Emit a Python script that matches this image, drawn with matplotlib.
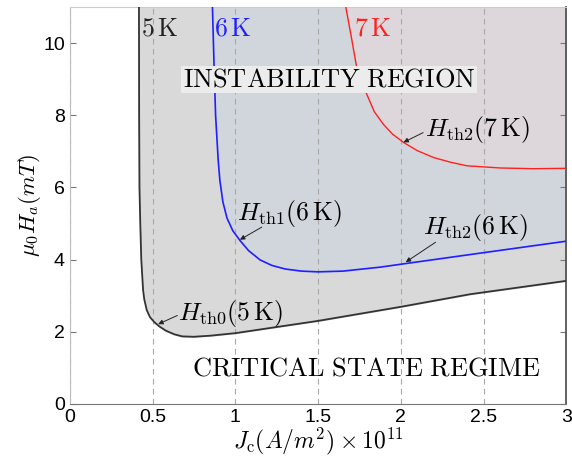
import matplotlib.pyplot as plt

plt.rcParams['mathtext.fontset'] = 'cm'
plt.rcParams['font.family'] = 'Liberation Sans'

# black curve, 5 K (H_th0)
x5 = [0.418, 0.419, 0.421, 0.426, 0.432, 0.443, 0.45, 0.465, 0.485, 0.51, 0.54, 0.58,
      0.63, 0.68, 0.75, 0.85, 1.0, 1.5, 2.0, 2.42, 3.0]
y5 = [11.0, 8.0, 6.0, 5.0, 4.0, 3.15, 2.9, 2.6, 2.4, 2.27, 2.15, 2.03,
      1.93, 1.87, 1.86, 1.89, 1.96, 2.30, 2.69, 3.04, 3.41]

# blue curve, 6 K (H_th1 / H_th2)
x6 = [0.862, 0.871, 0.881, 0.897, 0.907, 0.925, 0.95, 0.985, 1.03, 1.08, 1.15, 1.22,
      1.3, 1.4, 1.5, 1.65, 1.875, 2.03, 2.42, 3.0]
y6 = [11.0, 9.5, 8.0, 6.74, 6.19, 5.6, 5.15, 4.8, 4.52, 4.25, 3.99, 3.84,
      3.74, 3.68, 3.66, 3.68, 3.79, 3.89, 4.14, 4.51]

# red curve, 7 K (H_th2)
x7 = [1.668, 1.70, 1.734, 1.765, 1.795, 1.84, 1.895, 1.95, 2.016, 2.1, 2.198, 2.3,
      2.4, 2.6, 2.8, 3.0]
y7 = [11.0, 10.2, 9.32, 8.9, 8.58, 8.1, 7.75, 7.48, 7.25, 7.02, 6.83, 6.70,
      6.60, 6.54, 6.52, 6.53]

ytop = 11

fig = plt.figure(figsize=(5.72, 4.74), dpi=100)
ax = fig.add_axes([0.122, 0.148, 0.868, 0.837])

ax.fill_between(x5, y5, ytop, color='#d9d9d9', zorder=1)
ax.fill_between(x6, y6, ytop, color='#d1d5dc', zorder=1.1)
ax.fill_between(x7, y7, ytop, color='#ddd6da', zorder=1.2)

for xv in [0, 0.5, 1, 1.5, 2, 2.5]:
    ax.axvline(xv, color='#a8a8a8', lw=0.8, ls=(0, (5, 4)), zorder=1.5)

ax.plot(x5, y5, color='#333333', lw=1.3, zorder=3)
ax.plot(x6, y6, color='#1f1fff', lw=1.2, zorder=3)
ax.plot(x7, y7, color='#ff2020', lw=1.0, zorder=3)

ax.set_xlim(0, 3)
ax.set_ylim(0, ytop)
ax.set_xticks([0, 0.5, 1, 1.5, 2, 2.5, 3])
ax.set_xticklabels(['0', '0.5', '1', '1.5', '2', '2.5', '3'])
ax.set_yticks([0, 2, 4, 6, 8, 10])
ax.tick_params(labelsize=14, direction='in', right=True, length=4, color='#777777')
ax.tick_params(axis='x', length=0)
ax.spines['left'].set_color('#bbbbbb')
ax.spines['top'].set_color('#cccccc')
ax.spines['bottom'].set_color('#777777')
ax.spines['right'].set_color('#555555')
ax.spines['right'].set_linewidth(1.3)

ax.set_xlabel(r'$J_{\mathrm{c}}(A/m^2)\times 10^{11}$', fontsize=17, labelpad=0)
ax.set_ylabel(r'$\mu_0 H_a(mT)$', fontsize=16.5, labelpad=0)

ax.text(0.428, 10.4, r'$5\,\mathrm{K}$', color='#222222', fontsize=18.5, va='center', zorder=4)
ax.text(0.87, 10.4, r'$6\,\mathrm{K}$', color='#1f1fff', fontsize=18.5, va='center', zorder=4)
ax.text(1.715, 10.4, r'$7\,\mathrm{K}$', color='#ff2020', fontsize=18.5, va='center', zorder=4)

ax.text(1.567, 9.0, r'$\mathrm{INSTABILITY\ REGION}$', fontsize=19, ha='center', va='center',
        zorder=4, bbox=dict(facecolor='#ececec', edgecolor='none', pad=1))
ax.text(1.79, 0.97, r'$\mathrm{CRITICAL\ STATE\ REGIME}$', fontsize=19, ha='center',
        va='center', zorder=4)

labels = [
    (r'$H_{\mathrm{th0}}(5\,\mathrm{K})$', (0.655, 2.51), (0.534, 2.21), (0.65, 2.45)),
    (r'$H_{\mathrm{th1}}(6\,\mathrm{K})$', (1.01, 5.27), (1.028, 4.55), (1.16, 4.9)),
    (r'$H_{\mathrm{th2}}(6\,\mathrm{K})$', (2.135, 4.89), (2.03, 3.93), (2.21, 4.48)),
    (r'$H_{\mathrm{th2}}(7\,\mathrm{K})$', (2.148, 7.62), (2.016, 7.25), (2.135, 7.52)),
]
for txt, pos, tip, tail in labels:
    ax.text(pos[0], pos[1], txt, fontsize=18.5, va='center', ha='left', zorder=4)
    ax.annotate('', xy=tip, xytext=tail, zorder=4,
                arrowprops=dict(arrowstyle='-|>', color='#222222', lw=0.7,
                                mutation_scale=7, shrinkA=0, shrinkB=0))

fig.savefig('out.png', dpi=100)
